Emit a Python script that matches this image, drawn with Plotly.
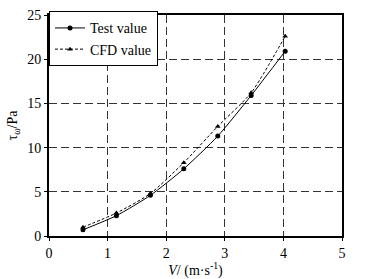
import plotly.graph_objects as go

velocity = [0.58, 1.15, 1.73, 2.30, 2.88, 3.45, 4.03]
test_value = [0.7, 2.3, 4.6, 7.6, 11.3, 15.9, 20.9]
cfd_value = [1.0, 2.6, 4.8, 8.3, 12.4, 16.2, 22.6]
x_ticks = [0, 1, 2, 3, 4, 5]
y_ticks = [0, 5, 10, 15, 20, 25]

FONT = "Liberation Serif, serif"

fig = go.Figure()
fig.add_trace(go.Scatter(
    x=velocity, y=test_value, name="Test value", mode="lines+markers",
    line=dict(color="black", width=1, shape="spline", smoothing=0.6),
    marker=dict(symbol="circle", size=5, color="black"),
))
fig.add_trace(go.Scatter(
    x=velocity, y=cfd_value, name="CFD value", mode="lines+markers",
    line=dict(color="black", width=1, dash="3px,2px", shape="spline", smoothing=0.6),
    marker=dict(symbol="triangle-up", size=5, color="black"),
))

axis_common = dict(
    showgrid=True, gridcolor="#333333", gridwidth=1, griddash="8px,4px",
    zeroline=False, showline=True, linecolor="black", linewidth=2,
    ticks="outside", ticklen=3, tickcolor="black", tickwidth=1,
    tickfont=dict(family=FONT, size=14, color="black"),
    mirror=True, automargin=False,
)

fig.update_layout(
    width=368, height=279,
    margin=dict(l=49, r=26, t=14, b=43),
    paper_bgcolor="white", plot_bgcolor="white",
    font=dict(family=FONT, color="black"),
    showlegend=True,
    legend=dict(
        x=0, y=1.012, xanchor="left", yanchor="top",
        bgcolor="white", bordercolor="black", borderwidth=1,
        font=dict(family=FONT, size=14, color="black"),
        itemwidth=30, tracegroupgap=0,
    ),
    xaxis=dict(
        range=[0, 5], tickvals=x_ticks, ticktext=[str(v) for v in x_ticks],
        title=dict(text="<i>V</i>/ (m·s<sup>-1</sup>)", font=dict(family=FONT, size=14), standoff=0),
        **axis_common,
    ),
    yaxis=dict(
        range=[0, 25], tickvals=y_ticks, ticktext=[str(v) for v in y_ticks],
        title=dict(text="τ<sub>ω</sub>/Pa", font=dict(family=FONT, size=14), standoff=6),
        **axis_common,
    ),
)

fig.write_html(
    "out.html",
    config={"displayModeBar": False},
    post_script="document.body.style.margin='0';document.body.style.padding='0';",
)
